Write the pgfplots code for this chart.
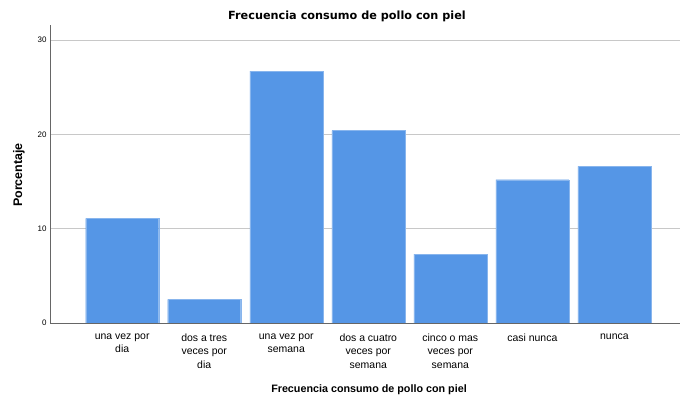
\documentclass[border=0pt]{standalone}
\usepackage{pgfplots}
\pgfplotsset{compat=1.18}
\usepackage{fontspec}
\setmainfont{Liberation Sans}
\newfontfamily\titlefont{DejaVu Sans}
\definecolor{barblue}{RGB}{85,150,230}
\definecolor{gridgray}{RGB}{200,200,200}
\begin{document}
\begin{tikzpicture}
\path[use as bounding box] (0,0) rectangle (680bp,401bp);
\begin{axis}[
  at={(50bp,78bp)}, anchor=south west,
  scale only axis, width=630bp, height=298bp,
  xmin=-0.88, xmax=6.8, ymin=0, ymax=31.6,
  axis x line*=bottom, axis y line*=left,
  axis line style={draw=gray!80!black, line width=0.6pt},
  ybar, bar width=0.89, bar shift=0pt,
  xtick={0,...,6}, xtick style={draw=none},
  xticklabels={{una vez por\\dia},{dos a tres\\veces por\\dia},{una vez por\\semana},{dos a cuatro\\veces por\\semana},{cinco o mas\\veces por\\semana},{casi nunca},{nunca}},
  xticklabel style={align=center, font=\fontsize{10.5}{13.5}\selectfont, yshift=-3bp},
  ytick={0,10,20,30}, ytick style={draw=none},
  yticklabel style={font=\fontsize{8}{9}\selectfont},
  /pgf/number format/assume math mode=true,
  ymajorgrids, grid style={gridgray, line width=0.6pt},
]
\addplot[fill=barblue, draw=barblue!70!white, line width=0.3pt] coordinates {(0,11.1) (1,2.5) (2,26.7) (3,20.4) (4,7.3) (5,15.2) (6,16.6)};
\end{axis}
\node[font=\titlefont\bfseries\fontsize{11.3}{13}\selectfont, anchor=base] at (347bp,381bp) {Frecuencia consumo de pollo con piel};
\node[font=\bfseries\fontsize{10.8}{13}\selectfont, anchor=base] at (369bp,9bp) {Frecuencia consumo de pollo con piel};
\node[font=\bfseries\fontsize{12.5}{14}\selectfont, anchor=base, rotate=90] at (22bp,226bp) {Porcentaje};
\end{tikzpicture}
\end{document}
